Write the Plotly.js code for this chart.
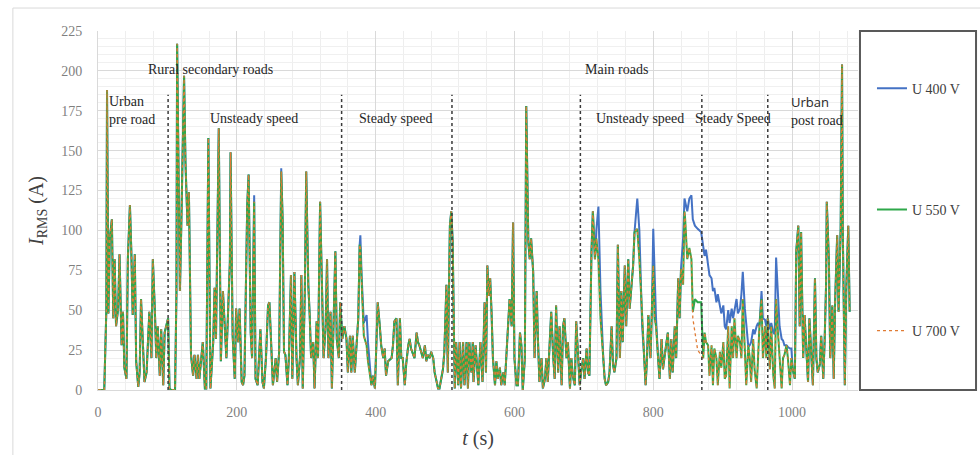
<!DOCTYPE html>
<html><head><meta charset="utf-8">
<script src="https://cdn.plot.ly/plotly-3.0.1.min.js"></script>
<style>html,body{margin:0;padding:0;background:#fff;} #chart{width:980px;height:455px;}</style>
</head><body><div id="chart"></div>
<script>
const time = [
0,9,12,13,15,17,20,22,24,26,
29,31,34,36,38,41,43,46,48,50,
53,55,58,60,62,65,67,70,72,74,
77,79,82,84,86,89,91,94,96,98,
101,103,105,111,113,114,118,120,124,126,
129,131,133,134,137,139,142,144,146,149,
151,154,156,159,162,166,168,170,174,177,
180,185,190,191,194,197,199,202,204,207,
209,211,215,217,220,222,225,227,230,232,
234,237,239,242,245,247,250,252,256,258,
261,264,266,268,270,273,275,278,280,283,
286,288,291,293,295,298,300,303,305,307,
310,312,315,317,320,323,325,328,330,332,
335,337,340,342,344,347,349,352,
355,358,360,363,365,367,370,372,375,377,
378,380,383,387,389,394,396,399,401,403,
406,408,411,413,415,418,423,425,427,430,
432,435,437,439,442,444,447,449,451,456,
459,461,463,466,468,471,473,475,478,480,
483,485,487,490,492,495,497,499,502,504,
507,509,511,514,516,519,521,523,526,528,
531,533,535,538,540,
541,544,548,551,554,557,559,561,563,565,
567,569,572,574,576,579,581,584,586,588,
591,593,596,598,600,603,605,608,610,612,
615,617,620,622,624,627,629,632,634,636,
639,641,644,646,648,651,653,656,658,660,
663,665,668,670,672,675,677,680,682,684,
687,689,692,694,696,699,701,704,706,708,
711,713,716,718,
721,724,728,730,732,735,737,740,742,744,
747,749,752,754,756,759,761,764,766,768,
771,773,777,780,782,784,787,789,791,793,
796,798,800,802,804,807,809,812,814,816,
819,821,824,826,828,831,833,836,838,840,
843,845,846,849,852,855,857,860,864,869,
872,874,876,879,881,884,886,888,891,893,
896,
898,901,903,905,908,910,913,915,917,920,
922,925,927,929,932,934,937,939,941,944,
946,949,951,953,956,958,961,963,965,968,
970,973,975,977,980,982,985,987,989,992,
994,997,999,1001,1004,1006,1009,1011,1013,1016,
1018,1021,1023,1025,1028,1030,1033,1035,1037,1040,
1042,1045,1047,1049,1050,1053,1055,1058,1060,1062,
1065,1067,1070,1072,1073,1076,1078,1081,1083
];

const u550 = [
0,0,50,188,48,95,107,45,82,40,
51,85,28,49,14,7,82,116,87,47,
85,18,2,11,57,20,5,11,30,49,
20,82,49,20,40,9,38,3,36,40,
45,1,0,0,60,217,62,103,197,143,
103,124,57,22,9,22,7,22,7,22,
30,1,1,158,1,30,64,32,164,18,
62,20,80,149,34,7,51,30,51,5,
3,9,116,135,36,20,118,7,3,20,
38,5,1,20,53,55,20,3,20,5,
24,137,107,24,22,3,20,72,7,74,
20,3,20,72,1,62,137,66,47,20,
30,1,43,20,118,45,20,40,82,20,
49,1,55,87,32,20,55,32,
40,32,11,34,11,34,11,24,45,91,
89,66,34,28,18,3,9,1,28,55,
40,28,20,26,9,18,20,28,43,45,
3,45,20,20,3,16,28,32,26,20,
36,30,28,22,20,28,18,22,20,24,
20,11,7,1,1,7,13,24,66,11,
103,112,93,1,30,3,30,1,30,3,
30,1,30,11,30,
5,28,3,30,5,55,11,78,59,70,
49,20,3,18,7,14,3,11,3,18,
40,57,40,105,20,3,3,36,28,0,
20,178,93,82,95,74,20,62,30,5,
20,1,7,20,5,28,49,20,7,53,
11,40,3,40,45,20,30,1,20,9,
3,43,20,3,11,20,7,26,11,9,
87,112,82,95,
82,45,20,7,3,5,11,40,16,11,
20,91,20,62,30,78,40,82,51,62,
78,99,101,82,62,40,20,3,20,47,
20,49,78,45,40,20,7,32,13,20,
28,36,7,32,11,40,20,70,45,76,
66,112,107,82,89,82,49,57,55,55,
20,36,30,28,9,28,3,26,20,3,
24,
14,30,7,9,40,1,40,20,45,20,
34,30,20,57,20,3,28,20,5,32,
13,1,20,40,57,20,40,20,45,13,
40,9,1,57,34,20,1,20,22,28,
20,3,20,13,7,87,103,40,99,20,
47,22,5,45,13,3,70,20,11,16,
34,7,32,66,118,82,20,53,7,55,
97,49,101,204,103,3,62,103,49
];

const u400 = [
0,0,50,188,48,95,107,45,82,40,
51,85,28,49,14,7,82,116,87,47,
85,18,2,11,57,20,5,11,30,49,
20,82,49,20,40,9,38,3,36,40,
45,1,0,0,60,217,62,103,197,143,
103,124,57,22,9,22,7,22,7,22,
30,1,1,158,1,30,64,32,164,18,
62,20,80,149,34,7,51,30,51,5,
3,9,116,135,36,20,122,7,3,20,
38,5,1,20,53,55,20,3,20,5,
24,139,107,24,22,3,20,72,7,74,
20,3,20,72,1,62,137,66,47,20,
30,1,43,20,118,45,20,40,82,20,
49,1,55,87,32,20,55,32,
40,32,11,34,11,34,11,24,45,91,
97,70,42,47,30,3,9,1,28,55,
40,28,20,26,9,18,20,28,43,45,
3,45,20,20,3,16,28,32,26,20,
36,30,28,22,20,28,18,22,20,24,
20,11,7,1,1,7,13,24,66,11,
103,112,93,1,30,3,30,1,30,3,
30,1,30,11,30,
5,28,3,30,5,55,11,78,59,70,
49,20,3,18,7,14,3,11,3,18,
40,57,40,105,20,3,3,36,28,0,
20,178,93,82,95,74,20,62,30,5,
20,1,7,20,5,28,49,20,7,53,
11,40,3,40,45,20,30,1,20,9,
3,43,20,3,11,20,7,26,11,9,
87,112,82,100,
115,62,20,7,3,5,11,40,16,11,
20,91,20,62,30,78,40,82,51,62,
78,99,120,100,75,40,20,3,20,47,
20,49,101,65,45,20,7,32,13,20,
28,36,7,32,11,40,20,70,45,76,
95,120,118,112,120,122,107,103,101,99,
90,84,88,76,72,70,62,64,55,60,
51,
48,53,40,38,50,42,51,45,50,57,
48,51,60,74,51,40,27,28,30,38,
35,40,42,40,62,45,44,40,45,38,
42,36,35,83,51,40,32,31,28,28,
27,26,26,13,7,87,103,40,99,20,
47,22,5,45,13,3,70,20,11,16,
34,7,32,66,118,82,20,53,7,55,
97,49,101,204,103,3,62,103,49
];

const u700 = [
0,0,50,188,48,95,107,45,82,40,
51,85,28,49,14,7,82,116,87,47,
85,18,2,11,57,20,5,11,30,49,
20,82,49,20,40,9,38,3,36,40,
45,1,0,0,60,217,62,103,197,143,
103,124,57,22,9,22,7,22,7,22,
30,1,1,158,1,30,64,32,164,18,
62,20,80,149,34,7,51,30,51,5,
3,9,116,135,36,20,118,7,3,20,
38,5,1,20,53,55,20,3,20,5,
24,137,107,24,22,3,20,72,7,74,
20,3,20,72,1,62,137,66,47,20,
30,1,43,20,118,45,20,40,82,20,
49,1,55,87,32,20,55,32,
40,32,11,34,11,34,11,24,45,91,
89,66,34,28,18,3,9,1,28,55,
40,28,20,26,9,18,20,28,43,45,
3,45,20,20,3,16,28,32,26,20,
36,30,28,22,20,28,18,22,20,24,
20,11,7,1,1,7,13,24,66,11,
103,112,93,1,30,3,30,1,30,3,
30,1,30,11,30,
5,28,3,30,5,55,11,78,59,70,
49,20,3,18,7,14,3,11,3,18,
40,57,40,105,20,3,3,36,28,0,
20,178,93,82,95,74,20,62,30,5,
20,1,7,20,5,28,49,20,7,53,
11,40,3,40,45,20,30,1,20,9,
3,43,20,3,11,20,7,26,11,9,
87,112,82,95,
82,45,20,7,3,5,11,40,16,11,
20,91,20,62,30,78,40,82,51,62,
78,99,101,82,62,40,20,3,20,47,
20,49,78,45,40,20,7,32,13,20,
28,36,7,32,11,40,20,70,45,76,
66,112,107,82,89,82,45,35,25,22,
20,36,30,28,9,28,3,26,20,3,
24,
14,30,7,9,40,1,40,20,45,20,
34,30,20,57,20,3,28,20,5,32,
13,1,20,40,57,20,40,20,45,13,
40,9,1,57,34,20,1,20,22,28,
20,3,20,13,7,87,103,40,99,20,
47,22,5,45,13,3,70,20,11,16,
34,7,32,66,118,82,20,53,7,55,
97,49,101,204,103,3,62,103,49
];

const seriesNames = ['U 400 V', 'U 550 V', 'U 700 V'];
const xTicks = [0, 200, 400, 600, 800, 1000];
const yTicks = [0, 25, 50, 75, 100, 125, 150, 175, 200, 225];
const phaseBounds = [101, 351, 510, 695, 870, 965];
const phaseLabels = ['Urban<br>pre road', 'Rural secondary roads', 'Unsteady speed', 'Steady speed',
  'Main roads', 'Unsteady speed', 'Steady Speed',
  '<span style="font-family:\'Open Sans\';font-size:13px">Urban</span><br>post road'];

const serif = 'Liberation Serif, Times New Roman, serif';

const traces = [
  {x: time, y: u400, name: seriesNames[0], type: 'scatter', mode: 'lines',
   line: {color: '#4472C4', width: 2}, legendgroup: 'g1'},
  {x: time, y: u550, name: seriesNames[1], type: 'scatter', mode: 'lines',
   line: {color: '#2EA84A', width: 2}, legendgroup: 'g2'},
  {x: time, y: u700, name: seriesNames[2], type: 'scatter', mode: 'lines',
   line: {color: '#E07B34', width: 1.3, dash: 'dot'}, legendgroup: 'g3'}
];

const shapes = phaseBounds.map(b => ({
  type: 'line', xref: 'x', yref: 'y', x0: b, x1: b, y0: 0, y1: 185,
  line: {color: '#3a3a3a', width: 1.5, dash: 'dot'}
}));
shapes.push({type: 'rect', xref: 'paper', yref: 'paper', x0: 1.0026, x1: 1.1553, y0: 0, y1: 1,
  line: {color: '#595959', width: 2}, fillcolor: 'rgba(0,0,0,0)'});
shapes.push({type: 'rect', xref: 'paper', yref: 'paper', x0: -0.112, x1: 1.2, y0: -0.3, y1: 1.064,
  line: {color: '#d9d9d9', width: 1}, fillcolor: 'rgba(0,0,0,0)', layer: 'below'});

const labelPos = [[12.5, 175, 'left'], [162, 201, 'center'], [224.5, 170, 'center'], [429, 170, 'center'],
  [747.5, 201, 'center'], [781, 170, 'center'], [914.5, 170, 'center'], [995, 175, 'left']];
const annotations = phaseLabels.map((t, i) => ({
  text: t, x: labelPos[i][0], y: labelPos[i][1], xref: 'x', yref: 'y',
  xanchor: labelPos[i][2], yanchor: 'middle', align: 'left', showarrow: false,
  font: {family: serif, size: 14, color: '#262626'}
}));

const layout = {
  width: 980, height: 455,
  margin: {l: 98, r: 122, t: 31, b: 65},
  paper_bgcolor: '#ffffff', plot_bgcolor: '#ffffff',
  showlegend: true,
  xaxis: {
    range: [0, 1095], tickmode: 'array', tickvals: xTicks, ticks: '',
    showgrid: true, gridcolor: '#d9d9d9', gridwidth: 1,
    minor: {dtick: 40, tick0: 0, showgrid: true, gridcolor: '#eeeeee', ticks: ''},
    showline: true, linecolor: '#d9d9d9', zeroline: false,
    tickfont: {family: serif, size: 14, color: '#7f7f7f'}, ticklabelstandoff: 9,
    title: {text: '<i>t</i> (s)', font: {family: serif, size: 20, color: '#404040'}, standoff: 12}
  },
  yaxis: {
    range: [0, 225], tickmode: 'array', tickvals: yTicks, ticks: '',
    showgrid: true, gridcolor: '#d9d9d9', gridwidth: 1,
    minor: {dtick: 5, tick0: 0, showgrid: true, gridcolor: '#f0f0f0', ticks: ''},
    showline: true, linecolor: '#d9d9d9', zeroline: false,
    tickfont: {family: serif, size: 14, color: '#7f7f7f'}, ticklabelstandoff: 12,
    title: {text: '<i>I</i><sub>RMS</sub> (A)', font: {family: serif, size: 20, color: '#404040'}, standoff: 12}
  },
  legend: {
    x: 1.0184, xanchor: 'left', y: 0.884, yanchor: 'top',
    tracegroupgap: 100, itemwidth: 30, traceorder: 'grouped',
    font: {family: serif, size: 14, color: '#404040'},
    bgcolor: 'rgba(0,0,0,0)', borderwidth: 0
  },
  shapes: shapes,
  annotations: annotations
};

Plotly.newPlot('chart', traces, layout, {displayModeBar: false, staticPlot: true});
</script>
</body></html>
